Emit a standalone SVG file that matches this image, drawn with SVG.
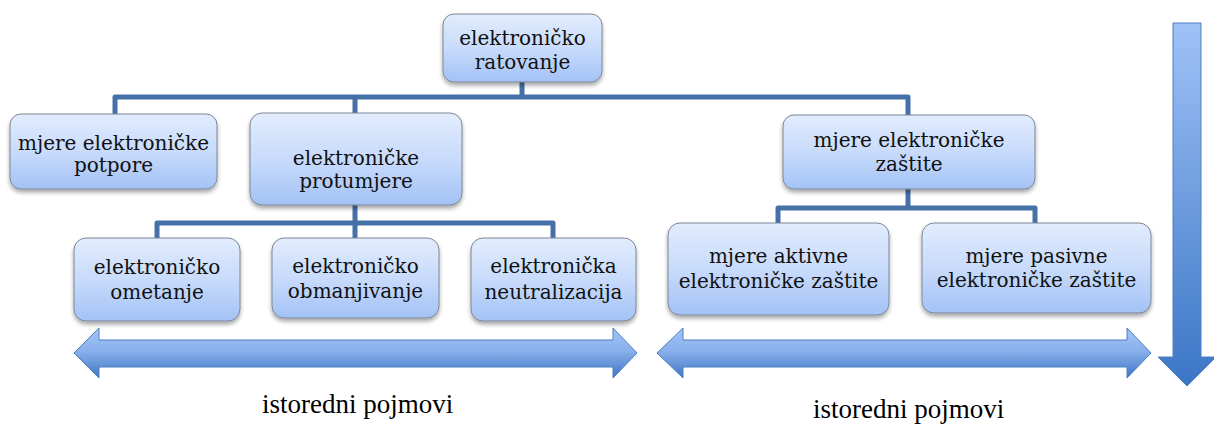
<svg xmlns="http://www.w3.org/2000/svg" width="1214" height="424" viewBox="0 0 1214 424">
<style>
.box{fill:url(#boxg);stroke:#7d8794;stroke-width:1;filter:url(#sh)}
.t{font-family:"DejaVu Serif","Liberation Serif",serif;font-size:20px;fill:#111;text-anchor:middle}
.lab{font-family:"Liberation Serif","Times New Roman",serif;font-size:27px;fill:#000}
.con{fill:none;stroke:#4670a8;stroke-width:5;stroke-linejoin:round}
.arr{stroke:#4f7fc0;stroke-width:1}
</style>
<defs>
<linearGradient id="boxg" x1="0" y1="0" x2="0" y2="1">
<stop offset="0" stop-color="#e2ecfd"/>
<stop offset="0.5" stop-color="#c8dbfb"/>
<stop offset="1" stop-color="#a3c2f6"/>
</linearGradient>
<linearGradient id="harr" x1="0" y1="0" x2="0" y2="1">
<stop offset="0" stop-color="#a2c3f6"/>
<stop offset="0.45" stop-color="#8ab1ec"/>
<stop offset="1" stop-color="#3f77c5"/>
</linearGradient>
<linearGradient id="varr" gradientUnits="userSpaceOnUse" x1="0" y1="23" x2="0" y2="386">
<stop offset="0" stop-color="#9fc2f7"/>
<stop offset="1" stop-color="#3b76c6"/>
</linearGradient>
<filter id="sh" x="-10%" y="-10%" width="120%" height="130%">
<feGaussianBlur in="SourceAlpha" stdDeviation="2"/>
<feOffset dx="0" dy="3" result="b"/>
<feComponentTransfer><feFuncA type="linear" slope="0.35"/></feComponentTransfer>
<feMerge><feMergeNode/><feMergeNode in="SourceGraphic"/></feMerge>
</filter>
</defs>

<g id="connectors">
<path class="con" d="M522 82V97M115 114V97H908V115M355 97V113"/>
<path class="con" d="M355 205V223M157 238V223H553V238M355 223V238"/>
<path class="con" d="M908 189V208M778 223V208H1035V223"/>
</g>

<g id="n-ratovanje">
<rect class="box" x="443" y="14" width="159" height="68" rx="11"/>
<text class="t" x="522.5" y="45">elektroničko</text>
<text class="t" x="522.5" y="69">ratovanje</text>
</g>
<g id="n-potpore">
<rect class="box" x="10" y="114" width="207" height="75" rx="11"/>
<text class="t" x="113.5" y="150">mjere elektroničke</text>
<text class="t" x="113.5" y="172">potpore</text>
</g>
<g id="n-protumjere">
<rect class="box" x="250" y="113" width="212" height="92" rx="12"/>
<text class="t" x="356" y="165">elektroničke</text>
<text class="t" x="356" y="188">protumjere</text>
</g>
<g id="n-zastite">
<rect class="box" x="783" y="115" width="252" height="74" rx="11"/>
<text class="t" x="909" y="147">mjere elektroničke</text>
<text class="t" x="909" y="171">zaštite</text>
</g>
<g id="n-ometanje">
<rect class="box" x="74" y="238" width="166" height="83" rx="12"/>
<text class="t" x="157" y="274">elektroničko</text>
<text class="t" x="157" y="299">ometanje</text>
</g>
<g id="n-obmanjivanje">
<rect class="box" x="272" y="238" width="167" height="80" rx="12"/>
<text class="t" x="355.5" y="273">elektroničko</text>
<text class="t" x="355.5" y="298">obmanjivanje</text>
</g>
<g id="n-neutralizacija">
<rect class="box" x="471" y="238" width="165" height="83" rx="12"/>
<text class="t" x="553.5" y="273">elektronička</text>
<text class="t" x="553.5" y="299">neutralizacija</text>
</g>
<g id="n-aktivne">
<rect class="box" x="668" y="223" width="221" height="92" rx="12"/>
<text class="t" x="778.5" y="263">mjere aktivne</text>
<text class="t" x="778.5" y="288">elektroničke zaštite</text>
</g>
<g id="n-pasivne">
<rect class="box" x="922" y="223" width="229" height="90" rx="12"/>
<text class="t" x="1036.5" y="263">mjere pasivne</text>
<text class="t" x="1036.5" y="287">elektroničke zaštite</text>
</g>

<g id="arrows">
<polygon class="arr" fill="url(#harr)" points="74,353 99,328 99,340 613,340 613,328 637,353 613,378 613,367 99,367 99,378"/>
<polygon class="arr" fill="url(#harr)" points="657,353 683,328 683,340 1127,340 1127,328 1151,353 1127,378 1127,367 683,367 683,378"/>
<polygon class="arr" fill="url(#varr)" points="1173,23 1201,23 1201,357 1216,357 1187,386 1158,357 1173,357"/>
</g>

<g id="labels">
<text class="lab" x="262" y="413">istoredni pojmovi</text>
<text class="lab" x="813" y="418">istoredni pojmovi</text>
</g>
</svg>
